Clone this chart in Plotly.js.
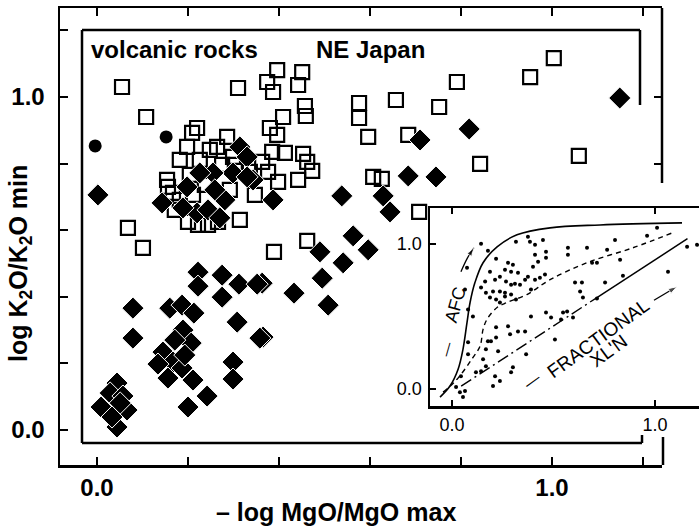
<!DOCTYPE html>
<html>
<head>
<meta charset="utf-8">
<script src="https://cdn.plot.ly/plotly-3.0.1.min.js"></script>
<style>html,body{margin:0;padding:0;background:#fff;}#chart{width:699px;height:530px;}</style>
</head>
<body>
<div id="chart"></div>
<script>
// ---- main diagram data: -log MgO/MgO max (x) vs log K2O/K2O min (y) ----
const squaresX = [0.055,0.108,0.310,0.396,0.451,0.374,0.387,0.442,0.409,0.457,0.459,0.380,0.396,0.385,0.413,0.453,0.462,0.473,0.376,0.398,0.442,0.286,0.220,0.209,0.198,0.182,0.154,0.156,0.167,0.314,0.068,0.101,0.389,0.462,0.708,0.264,0.299,0.576,0.576,0.596,0.657,0.684,0.607,0.626,0.752,0.791,0.952,1.004,0.842,1.059,0.226,0.248,0.275,0.303,0.204,0.237,0.292,0.336,0.182,0.200,0.222,0.244,0.266,0.347,0.363,0.171,0.211];
const squaresY = [1.030,0.940,1.027,1.081,1.075,1.045,1.015,1.036,0.940,0.973,0.943,0.907,0.886,0.835,0.832,0.829,0.805,0.778,0.775,0.745,0.751,0.880,0.907,0.892,0.850,0.811,0.751,0.730,0.712,0.631,0.607,0.547,0.535,0.568,0.655,0.850,0.820,0.982,0.937,0.880,0.991,0.886,0.760,0.754,0.970,1.045,1.060,1.117,0.799,0.823,0.811,0.841,0.796,0.796,0.766,0.736,0.721,0.775,0.691,0.625,0.616,0.616,0.625,0.706,0.805,0.661,0.706];

const diamondsX = [0.002,0.143,0.198,0.220,0.244,0.270,0.314,0.330,0.299,0.343,0.255,0.226,0.387,0.538,0.629,0.644,0.684,0.745,0.710,0.818,1.149,0.596,0.563,0.490,0.541,0.495,0.433,0.508,0.363,0.365,0.222,0.222,0.275,0.275,0.312,0.352,0.079,0.079,0.160,0.187,0.213,0.189,0.308,0.358,0.207,0.145,0.167,0.134,0.156,0.187,0.211,0.299,0.299,0.242,0.200,0.044,0.029,0.057,0.009,0.066,0.044,0.033,0.051,0.171,0.193,0.189,0.281,0.259,0.330];
const diamondsY = [0.706,0.682,0.730,0.652,0.661,0.637,0.850,0.820,0.772,0.751,0.772,0.772,0.691,0.703,0.703,0.655,0.763,0.760,0.871,0.904,0.997,0.541,0.583,0.535,0.502,0.456,0.411,0.375,0.441,0.279,0.474,0.432,0.465,0.399,0.438,0.438,0.366,0.276,0.366,0.375,0.351,0.300,0.324,0.276,0.261,0.234,0.204,0.198,0.156,0.186,0.150,0.204,0.153,0.102,0.069,0.141,0.111,0.102,0.069,0.060,0.009,0.039,0.081,0.270,0.225,0.667,0.691,0.721,0.760];

const circlesX = [-0.004,0.152];
const circlesY = [0.853,0.880];

const mainTickVals = [0,0.2,0.4,0.6,0.8,1.0,1.2];
const mainTickText = ['0.0','','','','','1.0',''];

// ---- inset diagram data ----
const insetDotsX = [0.143,0.177,0.074,0.315,0.374,0.384,0.409,0.448,0.217,0.463,0.463,0.409,0.424,0.399,0.276,0.300,0.261,0.291,0.325,0.187,0.236,0.212,0.163,0.266,0.291,0.310,0.335,0.360,0.374,0.409,0.433,0.458,0.389,0.143,0.167,0.202,0.236,0.261,0.187,0.217,0.236,0.261,0.291,0.315,0.064,0.079,0.103,0.079,0.079,0.044,0.020,0.039,0.064,0.054,0.217,0.217,0.177,0.192,0.167,0.227,0.276,0.286,0.325,0.360,0.389,0.463,0.488,0.507,0.365,0.153,0.167,0.143,0.118,0.212,0.202,0.236,0.300,0.291,0.537,0.547,0.571,0.571,0.665,0.764,0.803,0.828,0.690,0.714,0.961,1.010,0.606,0.640,0.631,0.645,0.754,0.842,1.064,1.158,1.207,0.567,0.596,0.714];
const insetDotsY = [1.000,0.952,0.836,1.014,1.048,1.014,0.993,1.027,0.897,0.945,0.904,0.925,0.877,0.842,0.870,0.856,0.822,0.808,0.801,0.808,0.774,0.753,0.740,0.740,0.719,0.726,0.719,0.753,0.774,0.753,0.767,0.788,0.685,0.699,0.664,0.671,0.671,0.664,0.630,0.616,0.596,0.637,0.651,0.616,0.685,0.548,0.500,0.322,0.240,0.089,0.014,-0.021,-0.014,-0.055,0.425,0.356,0.329,0.329,0.274,0.260,0.432,0.377,0.397,0.397,0.500,0.527,0.493,0.342,0.240,0.205,0.158,0.123,0.116,0.089,0.021,0.055,0.151,0.116,0.479,0.527,0.973,0.925,0.973,0.959,1.027,0.890,0.870,0.870,1.055,1.110,0.733,0.733,0.671,0.630,0.733,0.781,0.808,0.979,0.993,0.534,0.493,0.623];

const afcX = [-0.059,-0.010,0.030,0.054,0.074,0.089,0.113,0.153,0.222,0.320,0.483,0.729,1.133];
const afcY = [-0.055,0.021,0.137,0.274,0.459,0.596,0.733,0.870,0.979,1.062,1.110,1.130,1.144];

const mixX = [-0.044,0.025,0.097,0.138,0.153,0.172,0.222,0.271,0.369,0.483,0.665,0.892,1.084];
const mixY = [-0.021,0.068,0.205,0.295,0.411,0.479,0.562,0.596,0.651,0.753,0.870,0.973,1.075];

const fxlDashX = [0.045,0.714];
const fxlDashY = [0.020,0.630];
const fxlSolidX = [0.714,1.160];
const fxlSolidY = [0.630,1.035];

// arrows drawn beside the inset labels (tail ... head)
const afcArrowX = [0.044,0.075,0.108];
const afcArrowY = [0.808,0.900,0.973];
const fxlArrowX = [0.995,1.108];
const fxlArrowY = [0.612,0.705];

const insetTickVals = [0,1];
const insetTickText = ['0.0','1.0'];

const FONT = 'Liberation Sans, Arial, Helvetica, sans-serif';

const traces = [
  {x: squaresX, y: squaresY, type:'scatter', mode:'markers', xaxis:'x', yaxis:'y',
   marker:{symbol:'square-open', size:14, color:'black', line:{width:2.2, color:'black'}}, hoverinfo:'skip'},
  {x: diamondsX, y: diamondsY, type:'scatter', mode:'markers', xaxis:'x', yaxis:'y',
   marker:{symbol:'diamond', size:17, color:'black', line:{width:1, color:'white'}}, hoverinfo:'skip'},
  {x: circlesX, y: circlesY, type:'scatter', mode:'markers', xaxis:'x', yaxis:'y',
   marker:{symbol:'circle', size:13, color:'black'}, hoverinfo:'skip'},
  // empty trace so that the right-hand tick axis of the main frame is drawn
  {x: [], y: [], type:'scatter', mode:'markers', xaxis:'x', yaxis:'y3', hoverinfo:'skip'},
  // inset
  {x: afcX, y: afcY, type:'scatter', mode:'lines', xaxis:'x2', yaxis:'y2',
   line:{color:'black', width:1.6, shape:'spline', smoothing:1}, hoverinfo:'skip'},
  {x: mixX, y: mixY, type:'scatter', mode:'lines', xaxis:'x2', yaxis:'y2',
   line:{color:'black', width:1.4, dash:'5px,4px', shape:'spline', smoothing:1}, hoverinfo:'skip'},
  {x: fxlDashX, y: fxlDashY, type:'scatter', mode:'lines', xaxis:'x2', yaxis:'y2',
   line:{color:'black', width:1.4, dash:'12px,4px,2px,4px'}, hoverinfo:'skip'},
  {x: fxlSolidX, y: fxlSolidY, type:'scatter', mode:'lines', xaxis:'x2', yaxis:'y2',
   line:{color:'black', width:1.5}, hoverinfo:'skip'},
  {x: insetDotsX, y: insetDotsY, type:'scatter', mode:'markers', xaxis:'x2', yaxis:'y2',
   marker:{symbol:'circle', size:4, color:'black'}, hoverinfo:'skip'},
  {x: afcArrowX, y: afcArrowY, type:'scatter', mode:'lines+markers', xaxis:'x2', yaxis:'y2',
   line:{color:'black', width:1.3, shape:'spline'},
   marker:{symbol:['circle','circle','arrow'], size:[0,0,9], color:'black', angleref:'previous'}, hoverinfo:'skip'},
  {x: fxlArrowX, y: fxlArrowY, type:'scatter', mode:'lines+markers', xaxis:'x2', yaxis:'y2',
   line:{color:'black', width:1.3},
   marker:{symbol:['circle','arrow'], size:[0,9], color:'black', angleref:'previous'}, hoverinfo:'skip'}
];

// pixel -> paper helpers for frame decoration (plot area: x 60..699, y 8..465)
const px = v => (v - 60) / 639;
const py = v => (465 - v) / 457;
const L = (x0,y0,x1,y1) => ({type:'line', xref:'paper', yref:'paper', x0:px(x0), y0:py(y0), x1:px(x1), y1:py(y1), line:{color:'black', width:2.5}});

const shapes = [
  // outer frame partial right side
  L(662,8,662,183),
  L(663,465,663,437),
  // inner frame
  L(82,30,640,30),
  L(640,30,640,105),
  L(82,30,82,443),
  L(82,443,642,443),
  L(642,443,642,435)
];

const axisBase = {showgrid:false, zeroline:false, showline:true, linecolor:'black', linewidth:2.5,
  ticks:'inside', tickcolor:'black', tickwidth:2, automargin:false, fixedrange:true};
const MAIN_X_RANGE = [-0.0813, 1.2418];
const MAIN_Y_RANGE = [-0.1051, 1.2673];
const labelFont = {family:FONT, size:24, weight:'bold', color:'black'};

const layout = {
  width:699, height:530,
  margin:{l:60, r:0, t:8, b:65, pad:0},
  paper_bgcolor:'white', plot_bgcolor:'rgba(0,0,0,0)',
  showlegend:false,
  font:{family:FONT, color:'black'},
  xaxis: Object.assign({}, axisBase, {domain:[0, 602/639], range:MAIN_X_RANGE, anchor:'y',
    mirror:'ticks', ticklen:8, tickvals:mainTickVals, ticktext:mainTickText, ticklabelstandoff:0,
    tickfont:labelFont}),
  yaxis: Object.assign({}, axisBase, {domain:[0,1], range:MAIN_Y_RANGE, anchor:'x',
    mirror:false, ticklen:8, tickvals:mainTickVals, ticktext:mainTickText, ticklabelstandoff:8,
    tickfont:labelFont}),
  // right-side ticks of the main frame
  yaxis3: Object.assign({}, axisBase, {overlaying:'y', side:'right', anchor:'x', range:MAIN_Y_RANGE,
    showline:false, ticklen:8, tickvals:[0.8,1.0], showticklabels:false}),
  xaxis2: Object.assign({}, axisBase, {domain:[370/639, 1], range:[-0.1084, 1.2167], anchor:'y2',
    mirror:'ticks', ticklen:6, tickvals:insetTickVals, ticktext:insetTickText, ticklabelstandoff:1,
    tickfont:{family:FONT, size:18, color:'black'}}),
  yaxis2: Object.assign({}, axisBase, {domain:[py(406), py(208)], range:[-0.1164, 1.2466], anchor:'x2',
    mirror:false, ticklen:6, tickvals:insetTickVals, ticktext:insetTickText, ticklabelstandoff:2,
    tickfont:{family:FONT, size:18, color:'black'}}),
  shapes: shapes,
  annotations: [
    {text:'volcanic rocks', xref:'paper', yref:'paper', x:px(89), y:py(50), xanchor:'left', yanchor:'middle',
     showarrow:false, font:{family:FONT, size:24, weight:'bold', color:'black'}},
    {text:'NE Japan', xref:'paper', yref:'paper', x:px(314), y:py(50), xanchor:'left', yanchor:'middle',
     showarrow:false, font:{family:FONT, size:24, weight:'bold', color:'black'}},
    {text:'log K<sub>2</sub>O/K<sub>2</sub>O min', xref:'paper', yref:'paper', x:px(20), y:py(264),
     xanchor:'center', yanchor:'middle', textangle:-90, showarrow:false,
     font:{family:FONT, size:25, weight:'bold', color:'black'}},
    {text:'\u2013 log MgO/MgO max', xref:'paper', yref:'paper', x:px(336), y:py(512),
     xanchor:'center', yanchor:'middle', showarrow:false,
     font:{family:FONT, size:25, weight:'bold', color:'black'}},
    // inset labels
    {text:'AFC', xref:'x2', yref:'y2', x:0.015, y:0.582, textangle:-74, showarrow:false,
     font:{family:FONT, size:18, color:'black'}},
    {text:'\u2014', xref:'x2', yref:'y2', x:-0.025, y:0.274, textangle:-74, showarrow:false,
     font:{family:FONT, size:14, color:'black'}},
    {text:'FRACTIONAL', xref:'x2', yref:'y2', x:0.719, y:0.349, textangle:-36, showarrow:false,
     font:{family:FONT, size:19, color:'black'}},
    {text:"XL'N", xref:'x2', yref:'y2', x:0.773, y:0.268, textangle:-36, showarrow:false,
     font:{family:FONT, size:19, color:'black'}},
    {text:'\u2014', xref:'x2', yref:'y2', x:0.394, y:0.058, textangle:-36, showarrow:false,
     font:{family:FONT, size:16, color:'black'}}
  ]
};

Plotly.newPlot('chart', traces, layout, {displayModeBar:false, staticPlot:true});
</script>
</body>
</html>
